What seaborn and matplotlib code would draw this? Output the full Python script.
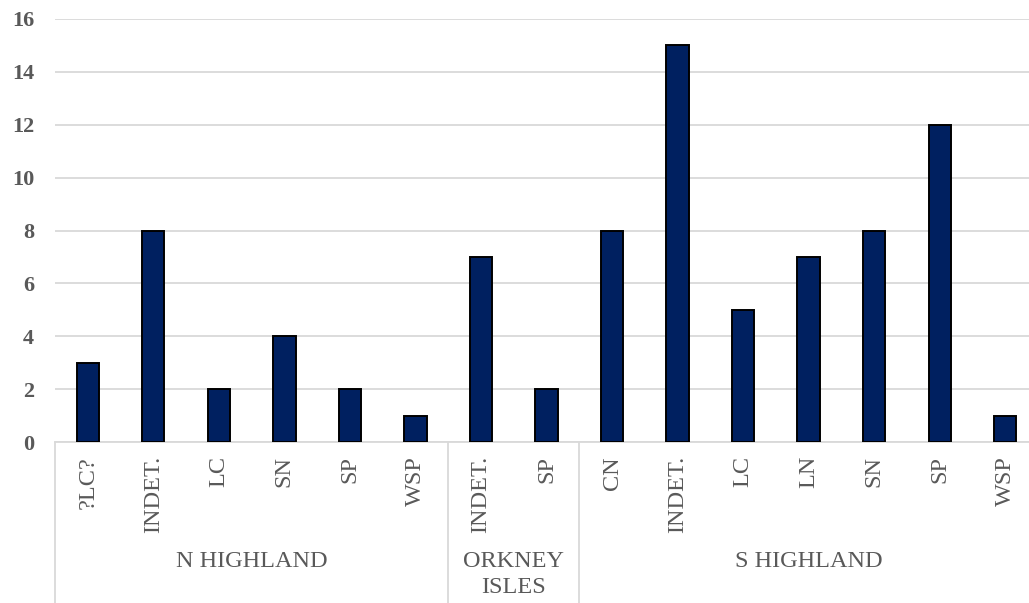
import matplotlib
matplotlib.use("Agg")
import matplotlib.pyplot as plt
import matplotlib.transforms as mtransforms
import seaborn as sns
import pandas as pd

groups = ["N HIGHLAND", "ORKNEY\nISLES", "S HIGHLAND"]
group_cats = [
    ["?LC?", "INDET.", "LC", "SN", "SP", "WSP"],
    ["INDET.", "SP"],
    ["CN", "INDET.", "LC", "LN", "SN", "SP", "WSP"],
]
group_vals = [
    [3, 8, 2, 4, 2, 1],
    [7, 2],
    [8, 15, 5, 7, 8, 12, 1],
]

rows = []
for g, cats, vals in zip(groups, group_cats, group_vals):
    for c, v in zip(cats, vals):
        rows.append({"group": g, "cat": c, "key": f"{g}|{c}", "value": v})
df = pd.DataFrame(rows)

sns.set_theme(style="white")
plt.rcParams["font.family"] = ["Liberation Serif", "DejaVu Serif"]

W, H = 1029, 603
fig = plt.figure(figsize=(W / 100, H / 100), dpi=100)
left_px, right_px, top_px, bot_px = 55, 1038, 19, 442
ax = fig.add_axes([left_px / W, 1 - bot_px / H, (right_px - left_px) / W, (bot_px - top_px) / H])

sns.barplot(data=df, x="key", y="value", order=list(df["key"]), width=0.34,
            color="#002060", saturation=1, edgecolor="black", linewidth=1.4, ax=ax, zorder=3)

ax.set_xlim(-0.5, len(df) - 0.5)
ax.set_ylim(0, 16)
ax.set_yticks(range(0, 17, 2))
ax.yaxis.grid(True, color="#D9D9D9", linewidth=1.3, zorder=0)
ax.set_axisbelow(True)
for s in ["top", "right", "left"]:
    ax.spines[s].set_visible(False)
ax.spines["bottom"].set_color("#D9D9D9")
ax.spines["bottom"].set_linewidth(1.3)
ax.set_xlabel("")
ax.set_ylabel("")

ax.set_xticks(range(len(df)))
ax.set_xticklabels(df["cat"], rotation=90, va="top", ha="center",
                   fontsize=17.5, color="#595959")
ax.tick_params(axis="x", length=0, pad=10)
ax.tick_params(axis="y", length=0, pad=15)
for lab in ax.get_yticklabels():
    lab.set_fontweight("bold")
    lab.set_fontsize(16)
    lab.set_color("#595959")

trans = mtransforms.blended_transform_factory(ax.transData, ax.transAxes)
bottom_axes = -(H - bot_px) / (bot_px - top_px)
pos = 0
seps = [-0.5]
centers = []
for cats in group_cats:
    centers.append(pos + (len(cats) - 1) / 2)
    pos += len(cats)
    seps.append(pos - 0.5)
for x in seps[:-1]:
    ax.plot([x, x], [0, bottom_axes], transform=trans, color="#D9D9D9",
            linewidth=1.3, clip_on=False)

label_y = -(551 - bot_px) / (bot_px - top_px)
for g, cx in zip(groups, centers):
    ax.text(cx, label_y, g, transform=trans, ha="center", va="top",
            fontsize=17.5, color="#595959", linespacing=1.3, multialignment="center")

fig.savefig("out.png", dpi=100)
